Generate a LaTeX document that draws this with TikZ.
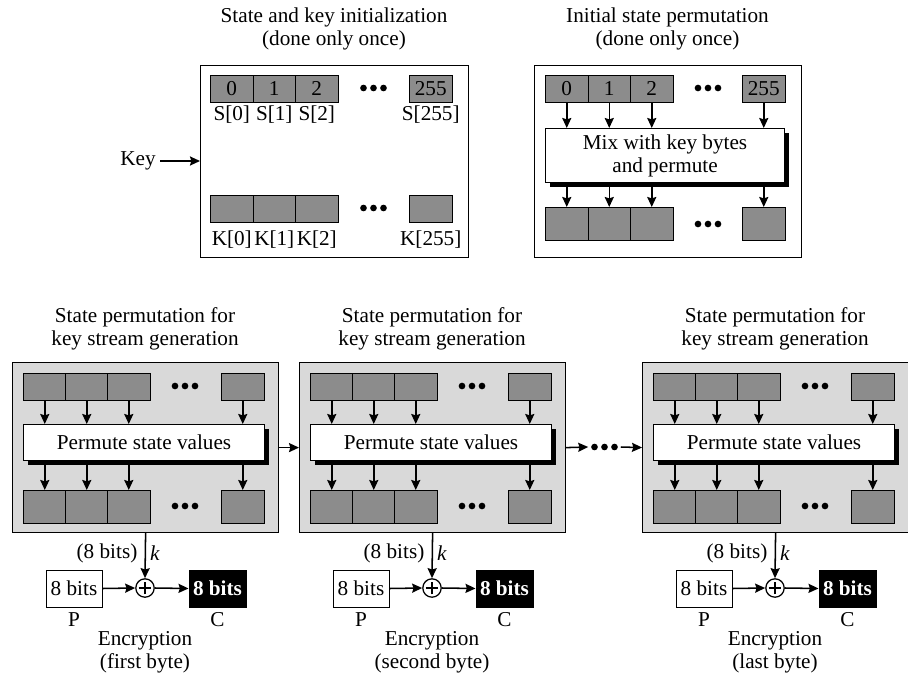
\documentclass[tikz,border=0pt]{standalone}
\usepackage{fontspec}
\setmainfont{Liberation Serif}
\usetikzlibrary{arrows.meta,shadows}
\definecolor{cellgray}{RGB}{140,140,140}
\definecolor{panelgray}{RGB}{217,217,217}
\begin{document}
\begin{tikzpicture}[x=0.75pt,y=-0.75pt,
  every node/.style={font=\fontsize{15.9pt}{17.25pt}\selectfont, inner sep=0pt},
  panel/.style={draw, line width=0.9pt, anchor=north west},
  cell/.style={draw, fill=cellgray, line width=0.75pt, anchor=north west, minimum width=31.9pt, minimum height=20pt},
  lcell/.style={cell, minimum height=24.5pt},
  mixbox/.style={draw, fill=white, line width=0.8pt, anchor=north west,
     drop shadow={shadow xshift=3.6pt, shadow yshift=-3.6pt, fill=black, opacity=1}},
  arr/.style={-{Stealth[length=7.5pt,width=6.8pt,inset=1pt]}, line width=1.15pt},
  bitbox/.style={draw, line width=0.75pt, minimum width=42pt, minimum height=27.75pt},
  ttl/.style={align=center}
]
\path[use as bounding box] (0,0) rectangle (908,675);

% ---------- top-left panel ----------
\node[ttl] (t1) at (334,29) {State and key initialization\\(done only once)};
\node[panel, minimum width=201pt, minimum height=144pt] (tl) at (200,65) {};
\node[cell] (s0) at (210,75) {0};
\node[cell] (s1) at (252.5,75) {1};
\node[cell] (s2) at (295,75) {2};
\node[cell] (s255) at (409,75) {255};
\node (ls0) at (s0.center |- 0,115) {S[0]};
\node (ls1) at (s1.center |- 0,115) {S[1]};
\node (ls2) at (s2.center |- 0,115) {S[2]};
\node (ls255) at (s255.center |- 0,115) {S[255]};
\node[cell] (k0) at (210,195) {};
\node[cell] (k1) at (252.5,195) {};
\node[cell] (k2) at (295,195) {};
\node[cell] (k255) at (409,195) {};
\node (lk0) at (k0.center |- 0,240) {K[0]};
\node (lk1) at (k1.center |- 0,240) {K[1]};
\node (lk2) at (k2.center |- 0,240) {K[2]};
\node (lk255) at (k255.center |- 0,240) {K[255]};
\foreach \dx in {-10,0,10} {
  \fill (373.5+\dx,88) circle (2.5pt);
  \fill (373.5+\dx,208) circle (2.5pt);
}
\node[anchor=east] (key) at (156,161) {Key};
\draw[arr, shorten <=3pt] (key.east) -- (key.east -| tl.west);

% ---------- top-right panel ----------
\node[ttl] (t2) at (667.5,29) {Initial state permutation\\(done only once)};
\node[panel, minimum width=200.25pt, minimum height=144pt] (tr) at (534,65) {};
\node[cell] (r0) at (545,75) {0};
\node[cell] (r1) at (587.5,75) {1};
\node[cell] (r2) at (630,75) {2};
\node[cell] (r255) at (742,75) {255};
\node[mixbox, minimum width=179.25pt, minimum height=40.5pt, align=center] (mix) at (545,128) {Mix with key bytes\\and permute};
\node[lcell] (q0) at (545,207) {};
\node[lcell] (q1) at (587.5,207) {};
\node[lcell] (q2) at (630,207) {};
\node[lcell] (q255) at (742,207) {};
\foreach \n in {0,1,2,255} {
  \draw[arr] (r\n.south) -- (r\n.south |- mix.north);
  \draw[arr] (q\n.north |- mix.south) -- (q\n.north);
}
\foreach \dx in {-10,0,10} {
  \fill (708+\dx,88) circle (2.5pt);
  \fill (708+\dx,224) circle (2.5pt);
}

% ---------- bottom panels ----------
\foreach \i/\off/\what in {1/0/first byte, 2/287/second byte, 3/630/last byte} {
  \begin{scope}[xshift=\off*0.75pt]
    \node[ttl] (bt\i) at (145,328.5) {State permutation for\\key stream generation};
    \node[panel, fill=panelgray, minimum width=199.5pt, minimum height=127.5pt] (b\i) at (12,362) {};
    \node[cell] (u\i-0) at (23,373) {};
    \node[cell] (u\i-1) at (65,373) {};
    \node[cell] (u\i-2) at (107,373) {};
    \node[cell] (u\i-3) at (221,373) {};
    \node[mixbox, minimum width=180.75pt, minimum height=27pt] (pm\i) at (23,424) {Permute state values};
    \node[lcell] (v\i-0) at (23,490) {};
    \node[lcell] (v\i-1) at (65,490) {};
    \node[lcell] (v\i-2) at (107,490) {};
    \node[lcell] (v\i-3) at (221,490) {};
    \foreach \n in {0,1,2,3} {
      \draw[arr] (u\i-\n.south) -- (u\i-\n.south |- pm\i.north);
      \draw[arr] (v\i-\n.north |- pm\i.south) -- (v\i-\n.north);
    }
    \foreach \dx in {-10,0,10} {
      \fill (185+\dx,386) circle (2.5pt);
      \fill (185+\dx,506) circle (2.5pt);
    }
    \node[draw, circle, line width=0.95pt, minimum size=13.8pt, fill=white] (x\i) at (145,588) {};
    \draw[line width=0.8pt] ([xshift=-4.8pt]x\i.center) -- ([xshift=4.8pt]x\i.center)
                             ([yshift=-4.8pt]x\i.center) -- ([yshift=4.8pt]x\i.center);
    \draw[arr] (b\i.south) -- (x\i.north);
    \node (eb\i) at (107,553) {(8 bits)};
    \node (k\i) at (155,553) {\textit{k}};
    \node[bitbox, fill=white] (p\i) at (74,588.5) {8 bits};
    \node[bitbox, fill=black, text=white, font=\fontsize{15.9pt}{17.25pt}\selectfont\bfseries, minimum width=42.75pt] (c\i) at (217.5,588.5) {8 bits};
    \node (lp\i) at (74,620) {P};
    \node (lc\i) at (217.5,620) {C};
    \draw[arr] (p\i.east) -- (x\i.west);
    \draw[arr] (x\i.east) -- (c\i.west);
    \node[ttl] (enc\i) at (145,652.5) {Encryption\\(\what)};
  \end{scope}
}
\draw[arr] (b1.east) -- (b2.west);
\node[minimum width=24pt, minimum height=6pt] (mdots) at (604.5,447) {};
\foreach \dx in {-10,0,10} { \fill (604.5+\dx,447) circle (2.5pt); }
\draw[arr] (b2.east) -- (mdots.west);
\draw[arr] (mdots.east) -- (b3.west);
\end{tikzpicture}
\end{document}
